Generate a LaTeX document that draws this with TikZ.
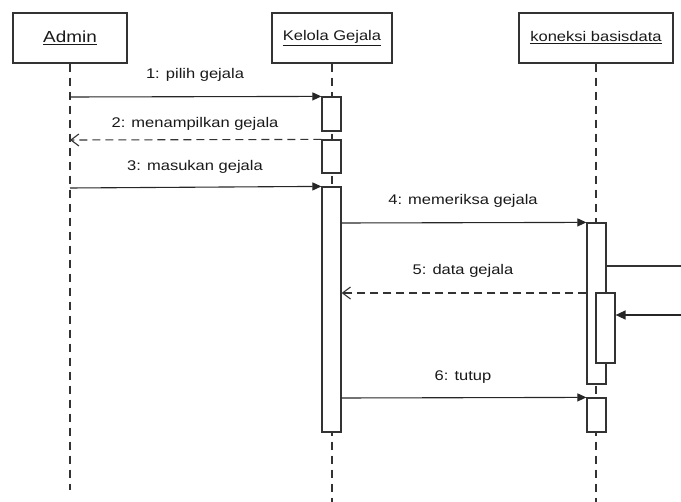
\documentclass[tikz,border=0pt]{standalone}
\usepackage{fontspec}
\newfontfamily\umlfont[FakeStretch=1.18]{Liberation Sans}
\usetikzlibrary{arrows.meta}

\tikzset{
  head/.style={draw=black!80, line width=1.2pt, minimum width=#1, minimum height=50pt, inner sep=0pt},
  act/.style={draw=black!80, fill=white, line width=1.2pt, minimum width=19pt, inner sep=0pt},
  lifeline/.style={black!80, line width=1.2pt, dash pattern=on 8pt off 6pt},
  msg/.style={black!85, line width=1.1pt, -{Triangle[length=9pt,width=8pt]}},
  ret/.style={black!80, line width=1.1pt, dash pattern=on 8pt off 5pt, -{Straight Barb[length=8pt,width=12pt]}},
  lbl/.style={text=black!90, font=\umlfont\fontsize{14}{16}\selectfont}
}

\begin{document}
\begin{tikzpicture}[x=1pt, y=-1pt]
  \useasboundingbox (0,0) rectangle (681,502);

  % objek
  \node[head=114pt, lbl, font=\umlfont\fontsize{16}{18}\selectfont] (admin) at (70,38) {\underline{Admin}};
  \node[head=120pt, lbl] (kelola) at (332,38) {\underline{Kelola Gejala}};
  \node[head=154pt, lbl] (koneksi) at (596,38) {\underline{koneksi basisdata}};

  % garis hidup
  \coordinate (adminend) at (70,490);
  \coordinate (kelolaend) at (332,502);
  \coordinate (koneksiend) at (596,502);
  \draw[lifeline] (admin.south) -- (adminend);
  \draw[lifeline] (kelola.south) -- (kelolaend);
  \draw[lifeline] (koneksi.south) -- (koneksiend);

  % aktivasi
  \node[act, minimum height=34pt] (a1) at (331.5,114) {};
  \node[act, minimum height=33pt] (a2) at (331.5,156.5) {};
  \node[act, minimum height=245pt] (a3) at (331.5,309.5) {};
  \node[act, minimum height=161pt] (b1) at (596.5,303.5) {};
  \node[act, minimum height=70pt] (b2) at (605.5,328) {};
  \node[act, minimum height=34pt] (b3) at (596.5,415) {};

  % pesan
  \coordinate (m1) at (70,97);
  \coordinate (m2) at (70,140);
  \coordinate (m3) at (70,188);
  \draw[msg] (m1) -- (a1.north west);
  \draw[ret] (a2.north west) -- (m2);
  \draw[msg] (m3) -- (a3.north west);
  \draw[msg] (a3.east |- 0,223) -- (b1.north west);
  \draw[ret] (b1.west |- 0,293) -- (a3.east |- 0,293);
  \draw[msg] (a3.east |- 0,398) -- (b3.north west);

  % panggilan ke luar gambar
  \coordinate (selfout) at (681,266);
  \coordinate (selfin) at (681,315);
  \draw[black!80, line width=1.1pt] (b1.east |- selfout) -- (selfout);
  \draw[black!85, line width=1.4pt, -{Triangle[length=10pt,width=9pt]}] (selfin) -- (b2.east |- selfin);

  \node[lbl] (l1) at (195,75) {1: pilih gejala};
  \node[lbl] (l2) at (195,124) {2: menampilkan gejala};
  \node[lbl] (l3) at (195,167) {3: masukan gejala};
  \node[lbl] (l4) at (463,201) {4: memeriksa gejala};
  \node[lbl] (l5) at (463,271) {5: data gejala};
  \node[lbl] (l6) at (463,377) {6: tutup};
\end{tikzpicture}
\end{document}
